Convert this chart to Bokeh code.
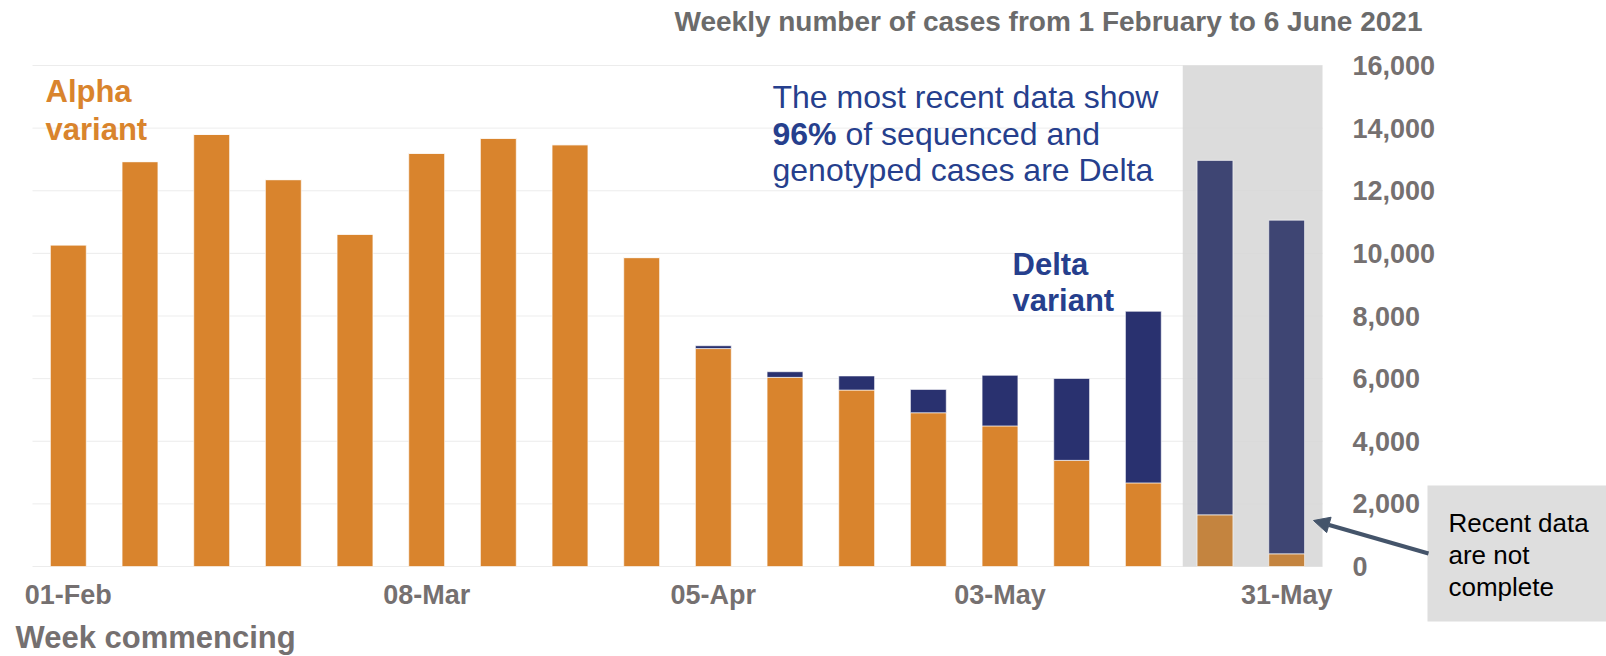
from bokeh.plotting import figure
from bokeh.models import (ColumnDataSource, Range1d, FixedTicker, NumeralTickFormatter,
                          BoxAnnotation, Label, Arrow, NormalHead)
from bokeh.embed import file_html
from bokeh.resources import INLINE

# ---------------- data ----------------
weeks = ["01-Feb", "08-Feb", "15-Feb", "22-Feb", "01-Mar", "08-Mar", "15-Mar", "22-Mar",
         "29-Mar", "05-Apr", "12-Apr", "19-Apr", "26-Apr", "03-May", "10-May", "17-May",
         "24-May", "31-May"]
alpha_cases = [10270, 12930, 13800, 12355, 10610, 13195, 13675, 13470, 9865,
               6960, 6040, 5635, 4910, 4490, 3390, 2670, 1650, 405]
delta_cases = [0, 0, 0, 0, 0, 0, 0, 0, 0,
               90, 180, 450, 745, 1615, 2615, 5480, 11320, 10655]
incomplete = [False] * 16 + [True, True]
labelled_weeks = ["01-Feb", "08-Mar", "05-Apr", "03-May", "31-May"]
y_ticks = [0, 2000, 4000, 6000, 8000, 10000, 12000, 14000, 16000]

# ---------------- styles ----------------
ORANGE, ORANGE_INC = "#d9842d", "#c4843f"
NAVY, NAVY_INC = "#29316f", "#3e4573"
GREY_TXT = "#757070"
BLUE_TXT = "#263f8d"
FONT = "Liberation Sans"

W, H = 1606, 656
# the plotting area (bars + axes) in canvas pixels; the frame covers the whole canvas
FL, FR, FT, FB = 32, 1322, 65, 566
X0, X1, Y0, Y1 = -0.5, 17.5, 0, 16000
TXT_SHIFT = 9  # baseline correction for labels (px)


def dx(px):
    return X0 + (px - FL) * (X1 - X0) / (FR - FL)


def dy(py):
    return Y0 + (FB - py) * (Y1 - Y0) / (FB - FT)


x = list(range(len(weeks)))
total = [a + d for a, d in zip(alpha_cases, delta_cases)]
src = ColumnDataSource(dict(
    x=x, alpha=alpha_cases, total=total,
    acol=[ORANGE_INC if f else ORANGE for f in incomplete],
    dcol=[NAVY_INC if f else NAVY for f in incomplete],
))

p = figure(width=W, height=H, x_range=Range1d(dx(0), dx(W)), y_range=Range1d(dy(H), dy(0)),
           output_backend="svg", toolbar_location=None, y_axis_location="right",
           title=None, min_border=0)
p.outline_line_color = None
p.background_fill_color = "white"
p.border_fill_color = "white"
p.xgrid.grid_line_color = None
p.ygrid.grid_line_color = None

# shaded "incomplete" region
first_inc = incomplete.index(True)
shade = BoxAnnotation(left=first_inc - 0.45, right=X1, bottom=Y0, top=Y1,
                      fill_color="#d6d6d6", fill_alpha=0.85, line_color=None,
                      level="underlay")
p.add_layout(shade)

# horizontal gridlines limited to the bar area
p.segment(x0=[X0] * len(y_ticks), x1=[X1] * len(y_ticks), y0=y_ticks, y1=y_ticks,
          line_color="#c8c8c8", line_alpha=0.35, line_width=1, level="underlay")

p.vbar(x="x", width=0.5, bottom=0, top="alpha", source=src, fill_color="acol",
       line_color="white", line_alpha=0.6, line_width=1)
p.vbar(x="x", width=0.5, bottom="alpha", top="total", source=src, fill_color="dcol",
       line_color="white", line_alpha=0.6, line_width=1)

# axes (fixed at the edges of the bar area)
xa = p.xaxis[0]
xa.fixed_location = Y0
idx = [weeks.index(w) for w in labelled_weeks]
xa.ticker = FixedTicker(ticks=idx)
xa.major_label_overrides = {i: weeks[i] for i in idx}
xa.axis_line_color = None
xa.major_tick_line_color = None
xa.minor_tick_line_color = None
xa.major_label_text_font = FONT
xa.major_label_text_font_style = "bold"
xa.major_label_text_font_size = "27px"
xa.major_label_text_color = GREY_TXT
xa.major_label_standoff = 7

ya = p.yaxis[0]
ya.fixed_location = X1
ya.ticker = FixedTicker(ticks=y_ticks)
ya.formatter = NumeralTickFormatter(format="0,0")
ya.axis_line_color = None
ya.major_tick_line_color = None
ya.minor_tick_line_color = None
ya.major_label_text_font = FONT
ya.major_label_text_font_style = "bold"
ya.major_label_text_font_size = "27px"
ya.major_label_text_color = GREY_TXT
ya.major_label_standoff = 24


def label(px, py, text, size, color, bold=False, align="left"):
    p.add_layout(Label(x=dx(px), y=dy(py - TXT_SHIFT), text=text, text_font=FONT,
                       text_font_size=f"{size}px", text_color=color,
                       text_font_style="bold" if bold else "normal",
                       text_align=align, text_baseline="alphabetic"))


# title and axis title
label(1422, 30, "Weekly number of cases from 1 February to 6 June 2021", 28, "#6b6b6b", True, "right")
label(15, 646, "Week commencing", 31, GREY_TXT, True)

# series labels
label(45, 100, "Alpha", 31, ORANGE, True)
label(45, 138, "variant", 31, ORANGE, True)
label(1012, 273, "Delta", 31, BLUE_TXT, True)
label(1012, 309, "variant", 31, BLUE_TXT, True)

# annotation text
label(772, 105, "The most recent data show", 32, BLUE_TXT)
label(772, 142, "96%", 32, BLUE_TXT, True)
label(845, 142, "of sequenced and", 32, BLUE_TXT)
label(772, 178, "genotyped cases are Delta", 32, BLUE_TXT)

# callout
box = BoxAnnotation(left=dx(1427), right=dx(W), top=dy(485), bottom=dy(621),
                    fill_color="#dedede", fill_alpha=1, line_color=None)
p.add_layout(box)
label(1448, 531, "Recent data", 26, "black")
label(1448, 563, "are not", 26, "black")
label(1448, 595, "complete", 26, "black")

arrow = Arrow(end=NormalHead(size=16, fill_color="#44546a", line_color="#44546a"),
              x_start=dx(1428), y_start=dy(553), x_end=dx(1313), y_end=dy(520),
              line_color="#44546a", line_width=4)
p.add_layout(arrow)

open("out.html", "w").write(file_html(p, INLINE))
